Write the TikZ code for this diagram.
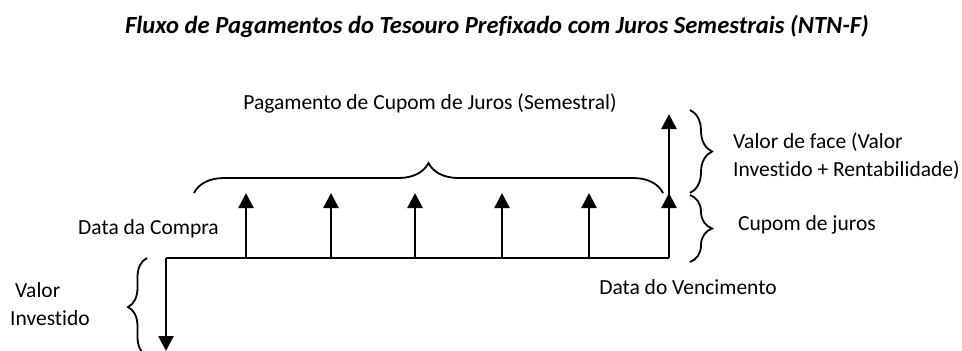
\documentclass[tikz,border=0pt]{standalone}
\usepackage{fontspec}
\setmainfont{Carlito}[Ligatures=NoCommon]
\usepackage{tikz}
\usetikzlibrary{positioning}
\usetikzlibrary{arrows.meta}
\usetikzlibrary{decorations.pathreplacing}
\usepackage{xcolor}

\tikzset{
	fluxo/.style={black, line width=2.6pt, -{Triangle[length=15pt,width=15pt]}},
	chave/.style={black, line width=1.8pt, decorate, decoration={brace, amplitude=#1}},
	rotulo/.style={inner sep=0pt, font=\fontsize{21.5}{28}\selectfont}
}

\begin{document}
\begin{tikzpicture}[x=1pt, y=-1pt]
	\useasboundingbox (0,0) rectangle (962,351);
	% titulo
	\node[inner sep=0pt, font=\fontsize{24.6}{28}\selectfont\bfseries\itshape] (titulo) at (497,26) {Fluxo de Pagamentos do Tesouro Prefixado com Juros Semestrais (NTN-F)};
	% linha do tempo
	\coordinate (compra) at (166,258);
	\coordinate (venc) at (669,258);
	\coordinate (fundo) at (166,351);
	\draw[black, line width=2.6pt] (compra)--(venc);
	\draw[fluxo] (compra)--(fundo);
	\foreach \i/\x in {1/246, 2/331, 3/415, 4/502, 5/589}{
		\coordinate (base\i) at (\x,258);
		\coordinate (cupom\i) at (\x,193);
		\draw[fluxo] (base\i)--(cupom\i);
	}
	\coordinate (cupom6) at (669,193);
	\coordinate (face) at (669,114);
	\draw[fluxo] (venc)--(face);
	\draw[fluxo] (venc)--(cupom6);
	% chaves
	\draw[chave=30pt] (194,193)--(663,193);
	\draw[chave=22pt] (690,110)--(690,193);
	\draw[chave=22pt] (690,195)--(690,262);
	\draw[chave=19pt] (147,356)--(147,258);
	% textos
	\node[rotulo] (pagamento) at (430,103) {Pagamento de Cupom de Juros (Semestral)};
	\node[rotulo, anchor=west, align=left] (valorface) at (733,156) {Valor de face (Valor\\Investido + Rentabilidade)};
	\node[rotulo, anchor=west] (juros) at (738,225) {Cupom de juros};
	\node[rotulo] (datacompra) at (148.5,229) {Data da Compra};
	\node[rotulo] (datavenc) at (688,287) {Data do Vencimento};
	\node[rotulo, anchor=west, align=left] (investido) at (10,304) {\hspace{5pt}Valor\\Investido};
\end{tikzpicture}
\end{document}
